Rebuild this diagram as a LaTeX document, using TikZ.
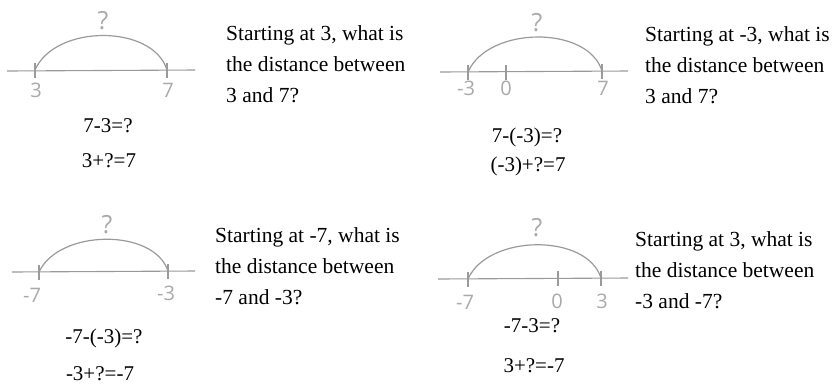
\documentclass[tikz,border=0pt]{standalone}
\usepackage{fontspec}
\setmainfont{Liberation Serif}
\newfontfamily\handfont{Open Sans}
\usepackage{tikz}
\usetikzlibrary{positioning,calc}
\definecolor{pencil}{HTML}{9A9A9A}

\begin{document}
\begin{tikzpicture}[
  x=1pt, y=-1pt,
  axis/.style={draw=pencil, line width=1.1pt},
  hop/.style={draw=pencil, line width=1.2pt},
  numlab/.style={font=\handfont\fontsize{20}{20}\selectfont, text=pencil!85, inner sep=0pt},
  qmark/.style={font=\handfont\fontsize{25}{25}\selectfont, text=pencil!85, inner sep=0pt},
  eq/.style={font=\fontsize{21}{21}\selectfont, anchor=base, inner sep=0pt},
  question/.style={font=\fontsize{21.5}{31}\selectfont, align=left, anchor=base west, inner sep=0pt}
]
\useasboundingbox (0,0) rectangle (837,384);

% --- top left: from 3 to 7
\coordinate (l1) at (7,71);  \coordinate (r1) at (195,70);
\coordinate (a1) at (35,70); \coordinate (b1) at (167,70);
\draw[axis] (l1) -- (r1);
\foreach \p in {a1,b1} \draw[axis] ($(\p)+(0,-7)$) -- ($(\p)+(0,8)$);
\draw[hop] (a1) .. controls +(20,-46) and +(-14,-46) .. (b1);
\node[qmark] (q1) at (103,21) {?};
\node[numlab] (n1a) at (36,90) {3};
\node[numlab] (n1b) at (168,90) {7};
\node[eq] (e1a) at (108,132) {7-3=?};
\node[eq] (e1b) at (109,167) {3+?=7};
% base anchor sits on the last line, so three lines of 31pt below the first
\node[question] (t1) at (226,102) {Starting at 3, what is\\the distance between\\3 and 7?};

% --- top right: from -3 to 7
\coordinate (l2) at (440,72); \coordinate (r2) at (628,71);
\coordinate (a2) at (468,72); \coordinate (z2) at (506,72); \coordinate (b2) at (602,71);
\draw[axis] (l2) -- (r2);
\foreach \p in {a2,z2,b2} \draw[axis] ($(\p)+(0,-7)$) -- ($(\p)+(0,8)$);
\draw[hop] (a2) .. controls +(20,-46) and +(-14,-46) .. (b2);
\node[qmark] (q2) at (537,23) {?};
\node[numlab] (n2a) at (466,88) {-3};
\node[numlab] (n2z) at (506,88) {0};
\node[numlab] (n2b) at (603,88) {7};
\node[eq] (e2a) at (527,142) {7-(-3)=?};
\node[eq] (e2b) at (528,171) {(-3)+?=7};
\node[question] (t2) at (645,103) {Starting at -3, what is\\the distance between\\3 and 7?};

% --- bottom left: from -7 to -3
\coordinate (l3) at (12,272); \coordinate (r3) at (195,271);
\coordinate (a3) at (39,272); \coordinate (b3) at (168,271);
\draw[axis] (l3) -- (r3);
\foreach \p in {a3,b3} \draw[axis] ($(\p)+(0,-7)$) -- ($(\p)+(0,8)$);
\draw[hop] (a3) .. controls +(20,-43) and +(-14,-43) .. (b3);
\node[qmark] (q3) at (107,225) {?};
\node[numlab] (n3a) at (32,295) {-7};
\node[numlab] (n3b) at (166,293) {-3};
\node[eq] (e3a) at (104,343) {-7-(-3)=?};
\node[eq] (e3b) at (100,380) {-3+?=-7};
\node[question] (t3) at (215,304) {Starting at -7, what is\\the distance between\\-7 and -3?};

% --- bottom right: from -7 through 0 to 3
\coordinate (l4) at (438,279); \coordinate (r4) at (628,278);
\coordinate (a4) at (468,279); \coordinate (z4) at (558,278); \coordinate (b4) at (601,278);
\draw[axis] (l4) -- (r4);
\foreach \p in {a4,z4,b4} \draw[axis] ($(\p)+(0,-7)$) -- ($(\p)+(0,8)$);
\draw[hop] (a4) .. controls +(20,-45) and +(-14,-45) .. (b4);
\node[qmark] (q4) at (537,228) {?};
\node[numlab] (n4a) at (465,302) {-7};
\node[numlab] (n4z) at (557,301) {0};
\node[numlab] (n4b) at (602,301) {3};
\node[eq] (e4a) at (532,332) {-7-3=?};
\node[eq] (e4b) at (534,372) {3+?=-7};
\node[question] (t4) at (635,308) {Starting at 3, what is\\the distance between\\-3 and -7?};
\end{tikzpicture}
\end{document}
